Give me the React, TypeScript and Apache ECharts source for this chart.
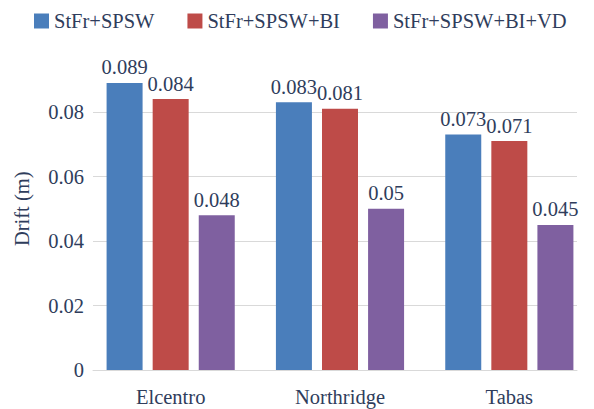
import React, { useEffect, useRef } from "react";
import * as echarts from "echarts";

const categories = ["Elcentro", "Northridge", "Tabas"];
const seriesNames = ["StFr+SPSW", "StFr+SPSW+BI", "StFr+SPSW+BI+VD"];
const valuesA = [0.089, 0.083, 0.073];
const valuesB = [0.084, 0.081, 0.071];
const valuesC = [0.048, 0.05, 0.045];
const colors = ["#4a7ebb", "#be4b48", "#7f60a0"];

const FONT = "Liberation Serif";
const TEXT = "#2f3d5c";
const FS = 20.5;

export default function App() {
  const ref = useRef<HTMLDivElement>(null);
  useEffect(() => {
    if (!ref.current) return;
    const chart = echarts.init(ref.current, undefined, { renderer: "svg" });
    const data = [valuesA, valuesB, valuesC];
    chart.setOption({
      animation: false,
      textStyle: { fontFamily: FONT },
      legend: {
        left: 34,
        top: 10.5,
        padding: 0,
        itemWidth: 15,
        itemHeight: 15,
        itemGap: 33,
        icon: "rect",
        textStyle: { fontFamily: FONT, fontSize: FS, color: TEXT },
        data: seriesNames,
      },
      grid: [
        { left: 86, width: 511, top: 47.5, height: 322.5 },
        { left: 93, right: 17, top: 47.5, height: 322.5 },
      ],
      xAxis: [
        {
          type: "category",
          gridIndex: 0,
          data: categories,
          axisLine: { show: false },
          axisTick: { show: false },
          axisLabel: { fontFamily: FONT, fontSize: FS, color: TEXT, margin: 16 },
        },
        {
          type: "category",
          gridIndex: 1,
          data: categories,
          axisLine: { show: true, lineStyle: { color: "#d9d9d9", width: 1 } },
          axisTick: { show: false },
          axisLabel: { show: false },
        },
      ],
      yAxis: [
        {
          type: "value",
          gridIndex: 0,
          min: 0,
          max: 0.1,
          interval: 0.02,
          show: false,
          splitLine: { show: false },
        },
        {
          type: "value",
          gridIndex: 1,
          min: 0,
          max: 0.1,
          interval: 0.02,
          name: "Drift (m)",
          nameLocation: "middle",
          nameGap: 61,
          nameTextStyle: { fontFamily: FONT, fontSize: FS, color: TEXT },
          axisLine: { show: false },
          axisTick: { show: false },
          axisLabel: {
            fontFamily: FONT,
            fontSize: FS,
            color: TEXT,
            margin: 9,
            showMaxLabel: false,
            formatter: (v: number) => (v === 0 ? "0" : String(Number(v.toFixed(2)))),
          },
          splitLine: { show: true, showMaxLine: false, lineStyle: { color: "#d9d9d9", width: 1 } },
        },
      ],
      series: seriesNames.map((name, i) => ({
        name,
        type: "bar",
        xAxisIndex: 0,
        yAxisIndex: 0,
        data: data[i],
        barWidth: 36,
        barGap: "28%",
        itemStyle: { color: colors[i] },
        label: {
          show: true,
          position: "top",
          distance: 5,
          fontFamily: FONT,
          fontSize: FS,
          color: TEXT,
          formatter: (p: any) => String(p.value),
        },
      })),
    });
    return () => chart.dispose();
  }, []);
  return <div ref={ref} style={{ width: 594, height: 409, position: "absolute", left: 0, top: 0, background: "#fff" }} />;
}
